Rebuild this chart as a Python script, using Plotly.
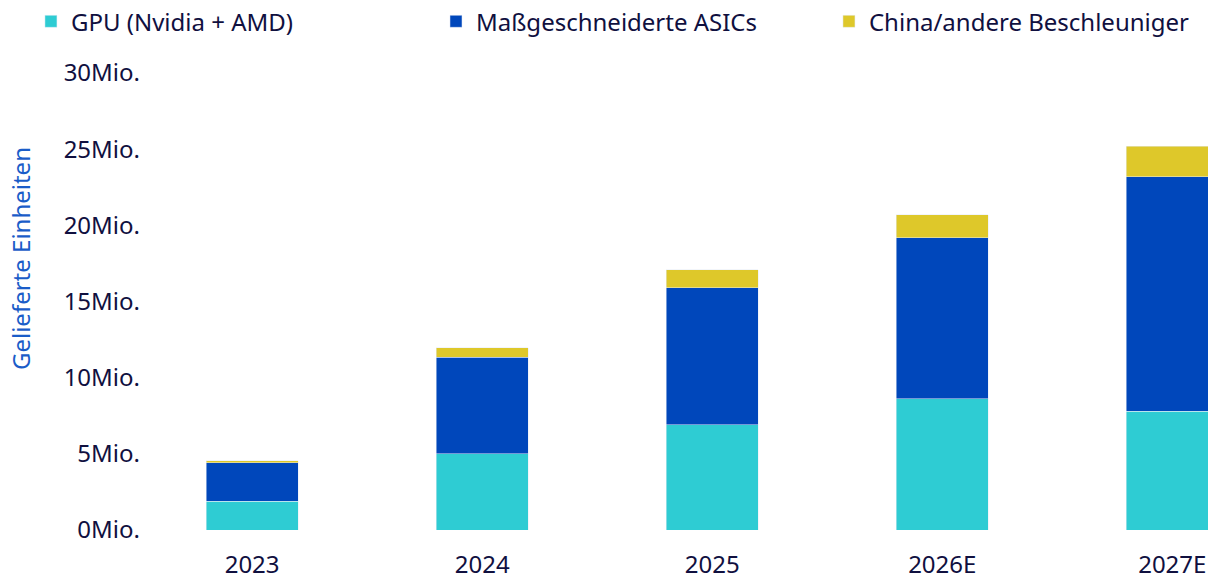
import plotly.graph_objects as go

categories = ["2023", "2024", "2025", "2026E", "2027E"]
gpu = [1.9, 5.0, 6.9, 8.6, 7.8]
asic = [2.5, 6.35, 9.0, 10.6, 15.4]
china = [0.15, 0.6, 1.2, 1.5, 2.0]
tick_vals = [0, 5, 10, 15, 20, 25, 30]
tick_text = ["0Mio.", "5Mio.", "10Mio.", "15Mio.", "20Mio.", "25Mio.", "30Mio."]

TXT = "#10103f"
FONT = "Noto Sans"
FS = 24

fig = go.Figure()
fig.add_bar(x=categories, y=gpu, name="GPU (Nvidia + AMD)", marker_color="#2ECCD3", width=0.4,
            legend="legend", showlegend=True)
fig.add_bar(x=categories, y=asic, name="Maßgeschneiderte ASICs", marker_color="#0047BB", width=0.4,
            legend="legend2", showlegend=True)
fig.add_bar(x=categories, y=china, name="China/andere Beschleuniger", marker_color="#DEC82A", width=0.4,
            legend="legend3", showlegend=True)

def leg(x):
    return dict(orientation="h", xref="container", yref="container", x=x, y=0.976,
                yanchor="middle", xanchor="left", font=dict(size=FS, color=TXT),
                itemwidth=30, bgcolor="rgba(0,0,0,0)", visible=True)

fig.update_layout(
    barmode="stack",
    showlegend=True,
    width=1208, height=572,
    margin=dict(l=133, r=0, t=65, b=50, autoexpand=False),
    plot_bgcolor="white", paper_bgcolor="white",
    font=dict(family=FONT, size=FS, color=TXT),
    legend=leg(0.019),
    legend2=leg(0.3543),
    legend3=leg(0.6796),
    xaxis=dict(type="category", range=[-0.483, 4.19], showgrid=False, showline=False,
               ticks="", ticklabelstandoff=18, tickfont=dict(size=FS, color=TXT)),
    yaxis=dict(range=[0, 30], tickvals=tick_vals, ticktext=tick_text, showgrid=False,
               zeroline=False, showline=False, ticks="", tickfont=dict(size=FS, color=TXT)),
    annotations=[dict(text="Gelieferte Einheiten", textangle=-90, xref="paper", yref="paper",
                      x=-0.1126, y=0.595, showarrow=False, xanchor="center", yanchor="middle",
                      font=dict(size=FS, color="#1a5cc8"))],
)

fig.write_html("out.html")
